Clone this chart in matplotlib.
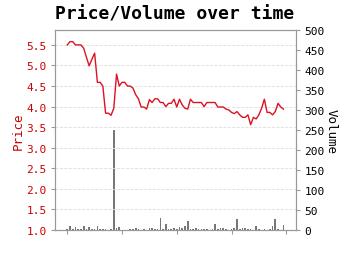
import numpy as np
import matplotlib
matplotlib.use("Agg")
import matplotlib.pyplot as plt

# price, one value per session
price = [5.50, 5.58, 5.58, 5.50, 5.50, 5.50, 5.42, 5.20, 4.99, 5.15,
         5.30, 4.59, 4.59, 4.50, 3.84, 3.84, 3.79, 3.96, 4.79, 4.50,
         4.59, 4.59, 4.50, 4.50, 4.45, 4.29, 4.19, 3.99, 3.99, 3.94,
         4.17, 4.10, 4.19, 4.19, 4.10, 4.10, 4.00, 4.08, 4.08, 4.18,
         3.99, 4.18, 4.04, 3.96, 3.94, 4.18, 4.10, 4.10, 4.10, 4.10,
         4.00, 4.10, 4.10, 4.10, 4.10, 3.99, 3.99, 3.99, 3.94, 3.92,
         3.86, 3.83, 3.88, 3.80, 3.74, 3.74, 3.80, 3.56, 3.74, 3.70,
         3.80, 3.96, 4.18, 3.86, 3.86, 3.80, 3.88, 4.08, 3.99, 3.94]
volume = [3, 9, 2, 7, 2, 3, 9, 2, 7, 2,
          2, 9, 2, 2, 2, 1, 2, 250, 4, 8,
          1, 1, 1, 3, 3, 4, 2, 1, 2, 1,
          5, 5, 3, 3, 31, 2, 14, 2, 2, 4,
          2, 7, 5, 11, 23, 3, 3, 4, 3, 3,
          3, 2, 1, 2, 14, 2, 5, 6, 3, 1,
          2, 4, 27, 2, 5, 5, 3, 2, 1, 10,
          2, 1, 2, 1, 3, 9, 27, 2, 1, 12]
days = np.arange(len(price))

mono = "DejaVu Sans Mono"
fig = plt.figure(figsize=(3.5, 2.55), dpi=100)
ax = fig.add_axes([0.157, 0.094, 0.689, 0.784])
ax2 = ax.twinx()

ax2.bar(days, volume, width=0.6, color="#777777")
ax.plot(days, price, color="#dd1122", lw=1.0, zorder=3)
ax.set_zorder(ax2.get_zorder() + 1)
ax.patch.set_visible(False)

ax.set_xlim(-4.5, 83.6)
ax.set_ylim(1.0, 5.86)
ax2.set_ylim(0, 500)
ax.set_xticks([0, 20, 40, 60, 80])
ax.set_xticklabels([])
ax.set_yticks(np.arange(1.0, 5.6, 0.5))
ax2.set_yticks(np.arange(0, 501, 50))

ax.grid(axis="y", color="#dddddd", ls="--", lw=0.6)
for a in (ax, ax2):
    for s in a.spines.values():
        s.set_color("#999999")
    a.tick_params(colors="#999999", length=3, width=0.8, pad=3)

for t in ax.get_yticklabels():
    t.set_fontfamily(mono)
    t.set_fontsize(8)
    t.set_color("#cc0000")
for t in ax2.get_yticklabels():
    t.set_fontfamily(mono)
    t.set_fontsize(8)
    t.set_color("black")

ax.set_ylabel("Price", color="#cc0000", family=mono, fontsize=9, labelpad=1)
ax2.set_ylabel("Volume", color="black", family=mono, fontsize=9, rotation=270, labelpad=9)
fig.suptitle("Price/Volume over time", family=mono, weight="bold", fontsize=13, y=0.978)

fig.savefig("out.png", dpi=100)
